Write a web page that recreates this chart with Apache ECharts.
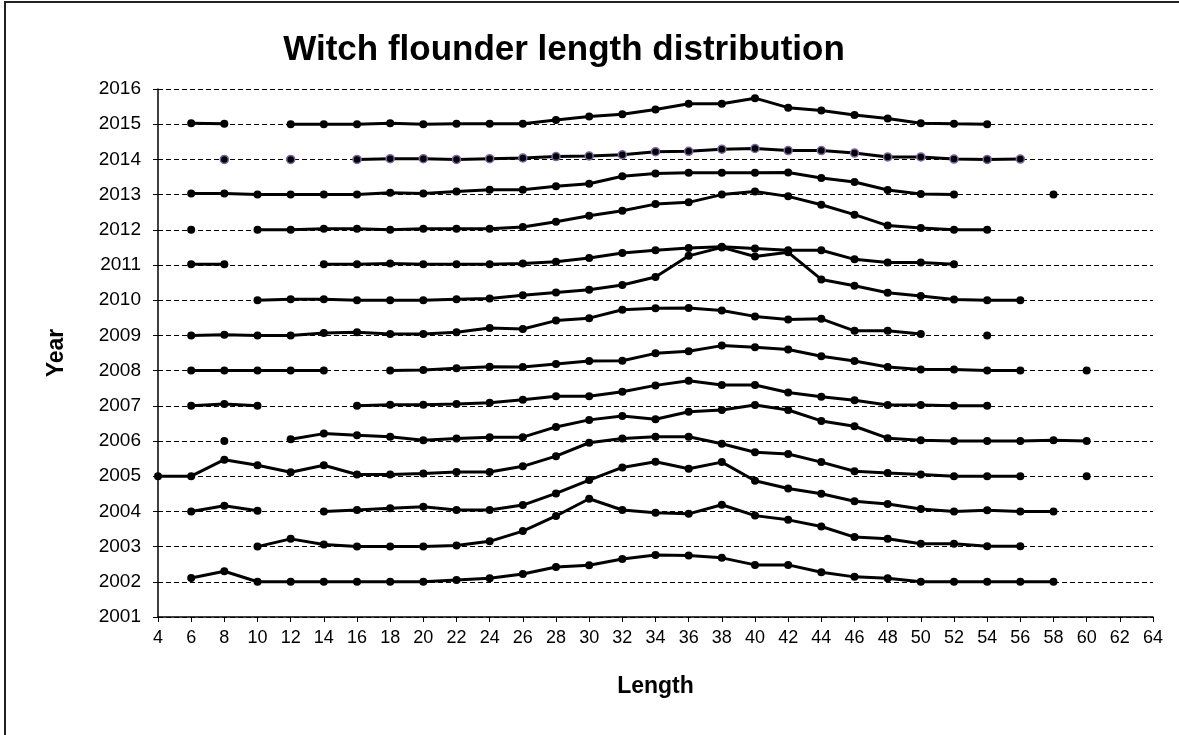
<!DOCTYPE html>
<html>
<head>
<meta charset="utf-8">
<script src="https://cdn.jsdelivr.net/npm/echarts@6/dist/echarts.min.js"></script>
<style>
  html, body { margin: 0; padding: 0; background: #fff; }
  #chart { width: 1179px; height: 735px; }
</style>
</head>
<body>
<div id="chart"></div>
<script>
// length classes on the x axis (4..60 step 2)
const lengths = [4, 6, 8, 10, 12, 14, 16, 18, 20, 22, 24, 26, 28, 30, 32, 34, 36, 38, 40, 42, 44, 46, 48, 50, 52, 54, 56, 58, 60]

// one array per year, value = year + scaled frequency, null = no data
const y2002 = [null, 2002.11, 2002.30, 2002.0, 2002.0, 2002.0, 2002.0, 2002.0, 2002.0, 2002.05, 2002.10, 2002.22, 2002.42, 2002.47, 2002.65, 2002.76, 2002.75, 2002.68, 2002.48, 2002.48, 2002.27, 2002.14, 2002.10, 2002.0, 2002.0, 2002.0, 2002.0, 2002.0, null]
const y2003 = [null, null, null, 2003.0, 2003.22, 2003.06, 2003.0, 2003.0, 2003.0, 2003.03, 2003.15, 2003.44, 2003.87, 2004.36, 2004.04, 2003.96, 2003.93, 2004.19, 2003.88, 2003.76, 2003.57, 2003.27, 2003.22, 2003.08, 2003.08, 2003.01, 2003.01, null, null]
const y2004 = [null, 2004.0, 2004.16, 2004.02, null, 2004.0, 2004.04, 2004.09, 2004.13, 2004.04, 2004.04, 2004.18, 2004.51, 2004.89, 2005.25, 2005.41, 2005.21, 2005.40, 2004.87, 2004.65, 2004.50, 2004.29, 2004.21, 2004.07, 2004.0, 2004.03, 2004.0, 2004.0, null]
const y2005 = [2005.0, 2005.0, 2005.47, 2005.31, 2005.11, 2005.31, 2005.05, 2005.05, 2005.08, 2005.12, 2005.12, 2005.28, 2005.57, 2005.95, 2006.07, 2006.12, 2006.12, 2005.92, 2005.68, 2005.63, 2005.40, 2005.14, 2005.09, 2005.05, 2005.0, 2005.0, 2005.0, null, 2005.0]
const y2006 = [null, null, 2006.0, null, 2006.05, 2006.21, 2006.16, 2006.12, 2006.02, 2006.07, 2006.11, 2006.11, 2006.40, 2006.60, 2006.71, 2006.62, 2006.83, 2006.88, 2007.02, 2006.88, 2006.57, 2006.42, 2006.08, 2006.02, 2006.0, 2006.0, 2006.0, 2006.02, 2006.0]
const y2007 = [null, 2007.0, 2007.05, 2007.0, null, null, 2007.0, 2007.03, 2007.03, 2007.05, 2007.09, 2007.17, 2007.27, 2007.27, 2007.40, 2007.58, 2007.71, 2007.59, 2007.59, 2007.38, 2007.26, 2007.16, 2007.02, 2007.02, 2007.0, 2007.0, null, null, null]
const y2008 = [null, 2008.0, 2008.0, 2008.0, 2008.0, 2008.0, null, 2008.0, 2008.02, 2008.07, 2008.11, 2008.10, 2008.19, 2008.27, 2008.28, 2008.49, 2008.55, 2008.71, 2008.66, 2008.60, 2008.41, 2008.27, 2008.10, 2008.03, 2008.03, 2008.0, 2008.0, null, 2008.0]
const y2009 = [null, 2009.0, 2009.02, 2009.0, 2009.0, 2009.07, 2009.09, 2009.04, 2009.04, 2009.09, 2009.21, 2009.18, 2009.42, 2009.49, 2009.73, 2009.77, 2009.78, 2009.71, 2009.54, 2009.45, 2009.47, 2009.13, 2009.13, 2009.04, null, 2009.0, null, null, null]
const y2010 = [null, null, null, 2010.0, 2010.03, 2010.03, 2010.0, 2010.0, 2010.0, 2010.03, 2010.05, 2010.14, 2010.22, 2010.30, 2010.43, 2010.66, 2011.26, 2011.50, 2011.24, 2011.36, 2010.59, 2010.41, 2010.21, 2010.12, 2010.02, 2010.0, 2010.0, null, null]
const y2011 = [null, 2011.02, 2011.02, null, null, 2011.02, 2011.02, 2011.04, 2011.02, 2011.02, 2011.02, 2011.04, 2011.09, 2011.20, 2011.34, 2011.42, 2011.48, 2011.52, 2011.47, 2011.42, 2011.42, 2011.16, 2011.07, 2011.07, 2011.02, null, null, null, null]
const y2012 = [null, 2012.0, null, 2012.0, 2012.0, 2012.03, 2012.03, 2012.0, 2012.03, 2012.03, 2012.03, 2012.08, 2012.23, 2012.40, 2012.54, 2012.73, 2012.78, 2013.0, 2013.09, 2012.95, 2012.71, 2012.43, 2012.12, 2012.05, 2012.0, 2012.0, null, null, null]
const y2013 = [null, 2013.03, 2013.03, 2013.0, 2013.0, 2013.0, 2013.0, 2013.05, 2013.03, 2013.09, 2013.14, 2013.14, 2013.24, 2013.31, 2013.52, 2013.60, 2013.62, 2013.62, 2013.62, 2013.63, 2013.47, 2013.36, 2013.13, 2013.02, 2013.0, null, null, 2013.0, null]
const y2014 = [null, null, 2014.0, null, 2014.0, null, 2014.0, 2014.02, 2014.02, 2014.0, 2014.02, 2014.04, 2014.08, 2014.10, 2014.13, 2014.22, 2014.23, 2014.29, 2014.31, 2014.25, 2014.25, 2014.18, 2014.07, 2014.07, 2014.01, 2014.0, 2014.01, null, null]
const y2015 = [null, 2015.03, 2015.01, null, 2015.0, 2015.0, 2015.0, 2015.03, 2015.0, 2015.01, 2015.01, 2015.01, 2015.12, 2015.22, 2015.28, 2015.42, 2015.58, 2015.58, 2015.74, 2015.47, 2015.39, 2015.26, 2015.16, 2015.03, 2015.01, 2015.0, null, null, null]

const yearSeries = [
  ['2002', y2002], ['2003', y2003], ['2004', y2004], ['2005', y2005],
  ['2006', y2006], ['2007', y2007], ['2008', y2008], ['2009', y2009],
  ['2010', y2010], ['2011', y2011], ['2012', y2012], ['2013', y2013],
  ['2014', y2014], ['2015', y2015]
]

const FONT = 'Liberation Sans, Arial, sans-serif'

const chart = echarts.init(document.getElementById('chart'))

const series = yearSeries.map(([name, vals]) => {
  const isPurple = name === '2014'
  return {
    name: name,
    type: 'line',
    data: lengths.map((l, i) => [l, vals[i] == null ? '-' : vals[i]]),
    connectNulls: false,
    showSymbol: true,
    showAllSymbol: true,
    symbol: 'circle',
    symbolSize: 8,
    lineStyle: { color: '#000', width: 3 },
    itemStyle: isPurple
      ? { color: '#000', borderColor: '#7e64a8', borderWidth: 1.5 }
      : { color: '#000', borderWidth: 0 },
    emphasis: { disabled: true },
    animation: false
  }
})

const option = {
  backgroundColor: '#fff',
  animation: false,
  title: {
    text: 'Witch flounder length distribution',
    left: 559,
    top: 28,
    textAlign: 'center',
    textStyle: { fontFamily: FONT, fontSize: 35, fontWeight: 'bold', color: '#000' }
  },
  graphic: [{
    type: 'rect',
    shape: { x: 5, y: 2, width: 1200, height: 760 },
    style: { fill: 'none', stroke: '#222', lineWidth: 2 },
    silent: true
  }],
  grid: { left: 158, right: 26, top: 89, bottom: 118 },
  xAxis: {
    type: 'value',
    min: 4,
    max: 64,
    interval: 2,
    name: 'Length',
    nameLocation: 'middle',
    nameGap: 58,
    nameTextStyle: { fontFamily: FONT, fontSize: 23, fontWeight: 'bold', color: '#000' },
    axisLine: { show: true, onZero: false, lineStyle: { color: '#000', width: 1.5 } },
    axisTick: { show: true, length: 5, lineStyle: { color: '#000' } },
    axisLabel: { fontFamily: FONT, fontSize: 18, color: '#000', margin: 12 },
    splitLine: { show: false }
  },
  yAxis: {
    type: 'value',
    min: 2001,
    max: 2016,
    interval: 1,
    name: 'Year',
    nameLocation: 'middle',
    nameGap: 90,
    nameRotate: 90,
    nameTextStyle: { fontFamily: FONT, fontSize: 23, fontWeight: 'bold', color: '#000' },
    axisLine: { show: true, lineStyle: { color: '#000', width: 1.5 } },
    axisTick: { show: true, length: 5, lineStyle: { color: '#000' } },
    axisLabel: {
      fontFamily: FONT, fontSize: 19, color: '#000', margin: 17,
      formatter: (v) => String(v)
    },
    splitLine: { show: true, lineStyle: { color: '#000', type: [5, 3], width: 1 } }
  },
  series: series
}

chart.setOption(option)
</script>
</body>
</html>
